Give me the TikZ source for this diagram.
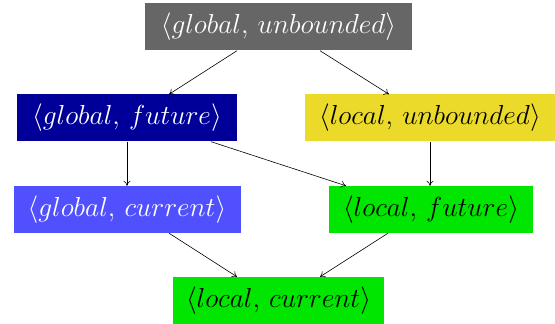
\RequirePackage{fix-cm}
\documentclass[tikz,border=0pt]{standalone}
\usetikzlibrary{arrows.meta}
\definecolor{cgray}{HTML}{666666}
\definecolor{cdblue}{HTML}{000099}
\definecolor{cyel}{HTML}{EBDA2A}
\definecolor{cblue}{HTML}{5050FF}
\definecolor{cgreen}{HTML}{00E600}
\begin{document}
\begin{tikzpicture}[x=1pt,y=1pt,
  lat/.style={inner sep=0pt, minimum height=47pt, font=\fontsize{27.5}{32}\selectfont},
  conn/.style={-{To[length=5pt,width=7pt]}, line width=0.6pt}]
\useasboundingbox (0,0) rectangle (555,324);
\node[lat, fill=cgray, text=white, minimum width=267pt] (gu) at (278.5,297) {$\langle global,\, unbounded\rangle$};
\node[lat, fill=cdblue, text=white, minimum width=220pt] (gf) at (127,206) {$\langle global,\, future\rangle$};
\node[lat, fill=cyel, text=black, minimum width=250pt] (lu) at (430,206) {$\langle local,\, unbounded\rangle$};
\node[lat, fill=cblue, text=white, minimum width=227pt] (gc) at (127,114.5) {$\langle global,\, current\rangle$};
\node[lat, fill=cgreen, text=black, minimum width=204pt] (lf) at (431,114.5) {$\langle local,\, future\rangle$};
\node[lat, fill=cgreen, text=black, minimum width=211pt] (lc) at (278.5,23.5) {$\langle local,\, current\rangle$};
\draw[conn] (gu.south -| 237,0) -- (gf.north -| 169,0);
\draw[conn] (gu.south -| 320,0) -- (lu.north -| 389,0);
\draw[conn] (gf.south -| 127,0) -- (gc.north -| 127,0);
\draw[conn] (gf.south -| 211,0) -- (lf.north -| 346,0);
\draw[conn] (lu.south -| 430,0) -- (lf.north -| 430,0);
\draw[conn] (gc.south -| 169,0) -- (lc.north -| 237,0);
\draw[conn] (lf.south -| 388,0) -- (lc.north -| 320,0);
\end{tikzpicture}
\end{document}
